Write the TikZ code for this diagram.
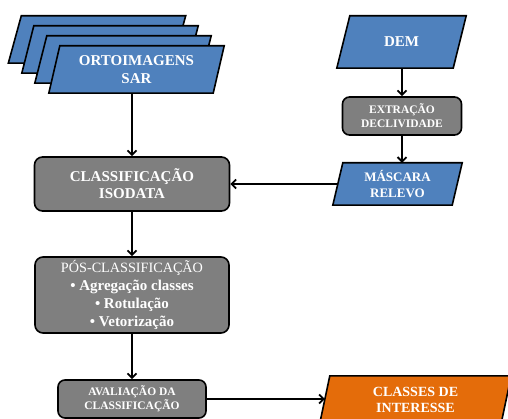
\documentclass[tikz,border=0pt]{standalone}
\usepackage{fontspec}
\setmainfont{Liberation Serif}
\usetikzlibrary{arrows.meta,backgrounds}
\definecolor{boxblue}{HTML}{4F81BD}
\definecolor{boxgray}{HTML}{7F7F7F}
\definecolor{boxorange}{HTML}{E46C0A}
\tikzset{
  para/.style={rectangle, text=white, font=\bfseries, align=center, inner sep=0pt},
  parashape/.style={draw=black, line width=1.6pt, line join=miter, fill=boxblue},
  rbox/.style={rectangle, rounded corners=8pt, draw=black, line width=1.6pt,
    fill=boxgray, text=white, font=\bfseries, align=center, inner sep=0pt},
  arr/.style={line width=2pt, -{Straight Barb[length=4.5pt,width=9pt,line width=1.8pt]}},
}
\newcommand{\fs}[2]{\fontsize{#1}{#2}\selectfont}
% parallelogram behind node #1 with horizontal skew #2 (pt), fill #3
\newcommand{\paradraw}[3]{%
  \draw[parashape, fill=#3] ([xshift=#2/2]#1.north west) -- ([xshift=#2/2]#1.north east)
    -- ([xshift=-#2/2]#1.south east) -- ([xshift=-#2/2]#1.south west) -- cycle;}
\begin{document}
\begin{tikzpicture}[x=1pt,y=-1pt]
\useasboundingbox (0,0) rectangle (508,419);
\clip (0,0) rectangle (508,419);
% stacked SAR images
\node[para, minimum width=164pt, minimum height=47pt] (s1) at (97,39.5) {};
\node[para, minimum width=164pt, minimum height=47pt] (s2) at (110,49.5) {};
\node[para, minimum width=164pt, minimum height=47pt] (s3) at (123,59.5) {};
\node[para, minimum width=164pt, minimum height=47pt, font=\bfseries\fs{15}{18}] (ort) at (136.5,69.5) {ORTOIMAGENS\\SAR};
% DEM branch
\node[para, minimum width=116pt, minimum height=52pt, font=\bfseries\fs{15}{18}] (dem) at (401.5,42) {DEM};
\node[rbox, rounded corners=7pt, minimum width=119pt, minimum height=38pt, font=\bfseries\fs{11.5}{14}] (ext) at (402,116) {EXTRAÇÃO\\DECLIVIDADE};
\node[para, minimum width=119pt, minimum height=42pt, font=\bfseries\fs{13}{16}] (mas) at (397.5,184) {MÁSCARA\\RELEVO};
% main column
\node[rbox, minimum width=195pt, minimum height=54pt, font=\bfseries\fs{15}{17}] (cls) at (132,184) {CLASSIFICAÇÃO\\ISODATA};
\node[rbox, minimum width=194pt, minimum height=76pt, font=\bfseries\fs{15}{18}] (pos) at (132,295)
  {{\mdseries\fs{14.2}{18}PÓS-CLASSIFICAÇÃO}\\• Agregação classes\\• Rotulação\\• Vetorização};
\node[rbox, rounded corners=7pt, minimum width=148pt, minimum height=38pt, font=\bfseries\fs{11.5}{14}] (ava) at (132,399) {AVALIAÇÃO DA\\CLASSIFICAÇÃO};
\node[para, minimum width=181pt, minimum height=47pt, font=\bfseries\fs{14}{16}] (cla) at (415.5,399.5) {CLASSES DE\\INTERESSE};
\begin{scope}[on background layer]
  \paradraw{s1}{13}{boxblue}
  \paradraw{s2}{12}{boxblue}
  \paradraw{s3}{12}{boxblue}
  \paradraw{ort}{11}{boxblue}
  \paradraw{dem}{13}{boxblue}
  \paradraw{mas}{10}{boxblue}
  \paradraw{cla}{10}{boxorange}
\end{scope}
% connectors
\draw[arr] (ort.south -| cls.north) -- (cls.north);
\draw[arr] (dem.south -| ext.north) -- (ext.north);
\draw[arr] (ext.south) -- (ext.south |- mas.north);
\draw[arr] (mas.west) -- (cls.east);
\draw[arr] (cls.south) -- (pos.north);
\draw[arr] (pos.south) -- (ava.north);
\draw[arr] (ava.east) -- (ava.east -| cla.west);
\end{tikzpicture}
\end{document}
